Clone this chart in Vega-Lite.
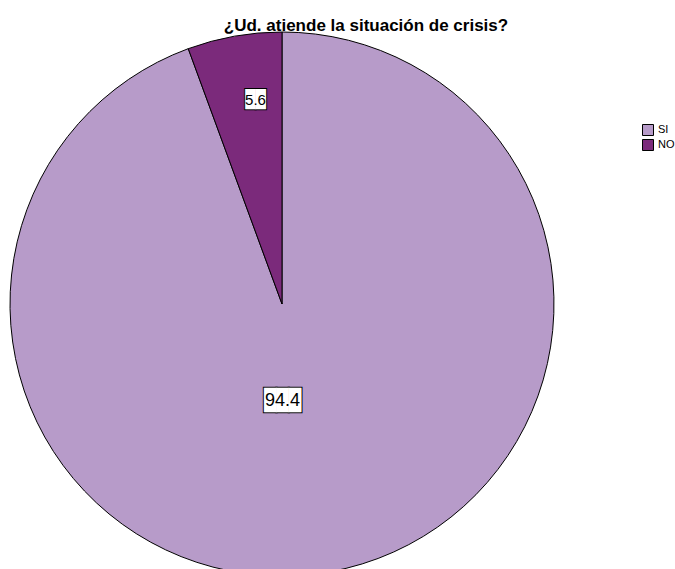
{
  "$schema": "https://vega.github.io/schema/vega-lite/v6.json",
  "autosize": {"type": "none"},
  "padding": {"left": 10, "top": 32, "right": 121, "bottom": 0},
  "width": 544,
  "height": 544,
  "background": "white",
  "config": {"view": {"stroke": null}},
  "title": {
    "text": "¿Ud. atiende la situación de crisis?",
    "font": "Liberation Sans",
    "fontSize": 17,
    "fontWeight": "bold",
    "color": "black",
    "anchor": "middle",
    "baseline": "alphabetic",
    "offset": 2,
    "dx": 84,
    "dy": 20
  },
  "data": {"values": [
    {"categoria": "SI", "pct": 94.4},
    {"categoria": "NO", "pct": 5.6}
  ]},
  "encoding": {
    "theta": {"field": "pct", "type": "quantitative", "stack": true},
    "order": {"field": "categoria", "sort": "descending"},
    "detail": {"field": "categoria"}
  },
  "layer": [
    {
      "mark": {"type": "arc", "stroke": "black", "strokeWidth": 1},
      "encoding": {
        "color": {
          "field": "categoria",
          "type": "nominal",
          "scale": {"domain": ["SI", "NO"], "range": ["#b79bc9", "#7b2a7b"]},
          "legend": {
            "title": null,
            "orient": "none",
            "legendX": 632,
            "legendY": 92,
            "symbolType": "square",
            "symbolSize": 121,
            "symbolStrokeColor": "black",
            "symbolStrokeWidth": 1,
            "symbolOpacity": 1,
            "labelFont": "Liberation Sans",
            "labelFontSize": 11,
            "labelColor": "black",
            "labelOffset": 4,
            "rowPadding": -1,
            "padding": 0
          }
        }
      }
    },
    {
      "mark": {"type": "text", "radius": 206, "thetaOffset": 0.047, "font": "DejaVu Sans Mono", "fontSize": 17, "fill": "white", "stroke": "black", "strokeWidth": 2, "align": "center", "baseline": "middle"},
      "encoding": {"text": {"condition": {"test": "datum.categoria === 'NO'", "value": "██"}, "value": ""}}
    },
    {
      "mark": {"type": "text", "radius": 206, "thetaOffset": 0.047, "font": "DejaVu Sans Mono", "fontSize": 17, "fill": "white", "align": "center", "baseline": "middle"},
      "encoding": {"text": {"condition": {"test": "datum.categoria === 'NO'", "value": "██"}, "value": ""}}
    },
    {
      "mark": {"type": "text", "radius": 206, "thetaOffset": 0.047, "font": "Liberation Sans", "fontSize": 15, "fill": "black", "align": "center", "baseline": "middle"},
      "encoding": {"text": {"condition": {"test": "datum.categoria === 'NO'", "field": "pct", "type": "quantitative", "format": ".1f"}, "value": ""}}
    },
    {
      "mark": {"type": "text", "radius": 97, "thetaOffset": 0.171, "font": "DejaVu Sans Mono", "fontSize": 20.6, "fill": "white", "stroke": "black", "strokeWidth": 2, "align": "center", "baseline": "middle"},
      "encoding": {"text": {"condition": {"test": "datum.categoria === 'SI'", "value": "███"}, "value": ""}}
    },
    {
      "mark": {"type": "text", "radius": 97, "thetaOffset": 0.171, "font": "DejaVu Sans Mono", "fontSize": 20.6, "fill": "white", "align": "center", "baseline": "middle"},
      "encoding": {"text": {"condition": {"test": "datum.categoria === 'SI'", "value": "███"}, "value": ""}}
    },
    {
      "mark": {"type": "text", "radius": 97, "thetaOffset": 0.171, "font": "Liberation Sans", "fontSize": 18, "fill": "black", "align": "center", "baseline": "middle"},
      "encoding": {"text": {"condition": {"test": "datum.categoria === 'SI'", "field": "pct", "type": "quantitative", "format": ".1f"}, "value": ""}}
    }
  ]
}
